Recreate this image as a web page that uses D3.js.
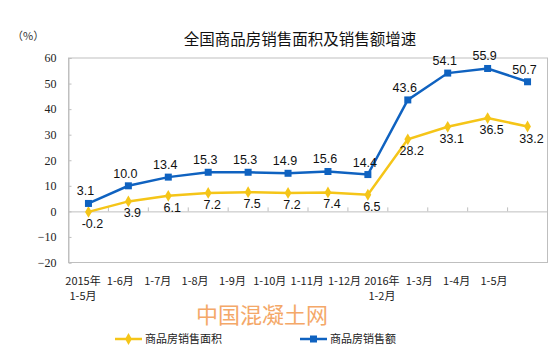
<!DOCTYPE html>
<html><head><meta charset="utf-8">
<script src="https://cdn.jsdelivr.net/npm/d3@7"></script>
<style>body{margin:0;background:#fff}svg{display:block}</style>
</head><body>
<svg id="c" width="557" height="357"></svg>
<script>
const categories = ["2015年\n1-5月","1-6月","1-7月","1-8月","1-9月","1-10月","1-11月","1-12月","2016年\n1-2月","1-3月","1-4月","1-5月"];
const areaGrowth = [-0.2,3.9,6.1,7.2,7.5,7.2,7.4,6.5,28.2,33.1,36.5,33.2];
const salesGrowth = [3.1,10.0,13.4,15.3,15.3,14.9,15.6,14.4,43.6,54.1,55.9,50.7];
const yTicks = [-20,-10,0,10,20,30,40,50,60];
const seriesNames = ["商品房销售面积","商品房销售额"];

const svg = d3.select("#c");
const L=68.5, R=547.5, T=58, B=262.5;
const x = d3.scaleBand().domain(categories).range([L,R]);
const xLab = d3.scalePoint().domain(categories).range([83,494]);
const y = d3.scaleLinear().domain([-20,60]).range([B,T]);
const cjk = "'Noto Sans CJK SC', sans-serif";
const serif = "'Liberation Serif', 'DejaVu Serif', serif";
const sans = "'Liberation Sans', Arial, sans-serif";
const gray = "#bfbfbf";

// title
svg.append("text").attr("x",300).attr("y",45).attr("text-anchor","middle")
  .attr("font-family",cjk).attr("font-size",15.5).attr("fill","#111").text("全国商品房销售面积及销售额增速");
svg.append("text").attr("x",12).attr("y",40).attr("font-family",cjk).attr("font-size",11).attr("fill","#333").text("（%）");

// plot border
svg.append("rect").attr("x",L).attr("y",T).attr("width",R-L).attr("height",B-T)
  .attr("fill","none").attr("stroke",gray).attr("stroke-width",1);

// y axis
const yAxis = d3.axisLeft(y).tickValues(yTicks).tickSize(-3).tickPadding(12).tickFormat(d3.format("d"));
const gy = svg.append("g").attr("transform",`translate(${L},0)`).call(yAxis);
gy.select(".domain").attr("stroke",gray);
gy.selectAll(".tick line").attr("stroke",gray);
gy.selectAll(".tick text").attr("font-family",serif).attr("font-size",12).attr("fill","#222");

// zero line with category ticks
const xAxis = d3.axisBottom(x).tickSize(0).tickFormat("");
const gx = svg.append("g").attr("transform",`translate(0,${y(0)})`).call(xAxis);
gx.select(".domain").attr("stroke",gray);
gx.selectAll(".tick").remove();
const bounds = categories.slice(1).map(c=>x(c));
gx.selectAll("line.sep").data(bounds).enter().append("line")
  .attr("x1",d=>d).attr("x2",d=>d).attr("y1",0).attr("y2",-4).attr("stroke",gray);

// x labels
const xl = svg.append("g");
categories.forEach(c=>{
  const lines = c.split("\n");
  const t = xl.append("text").attr("x",xLab(c)).attr("y",285).attr("text-anchor","middle")
    .attr("font-family",cjk).attr("font-size",11).attr("fill","#222");
  lines.forEach((s,i)=>t.append("tspan").attr("x",xLab(c)).attr("dy",i?15:0).text(s));
});

// watermark
svg.append("text").attr("x",262).attr("y",323).attr("text-anchor","middle")
  .attr("font-family",cjk).attr("font-size",22).attr("fill","#f4a868").text("中国混凝土网");

const cx = c=>x(c)+x.bandwidth()/2;
const yellow="#f5c518", blue="#0f62c0";
const line = d3.line().x(d=>cx(d[0])).y(d=>y(d[1]));
const aData = categories.map((c,i)=>[c,areaGrowth[i]]);
const sData = categories.map((c,i)=>[c,salesGrowth[i]]);

svg.append("path").datum(aData).attr("d",line).attr("fill","none").attr("stroke",yellow).attr("stroke-width",2.5);
svg.append("path").datum(sData).attr("d",line).attr("fill","none").attr("stroke",blue).attr("stroke-width",2.5);

const diamond = d3.symbol().type(d3.symbolDiamond).size(40);
svg.selectAll("path.am").data(aData).enter().append("path").attr("d",diamond)
  .attr("transform",d=>`translate(${cx(d[0])},${y(d[1])})`).attr("fill",yellow);
svg.selectAll("rect.sm").data(sData).enter().append("rect")
  .attr("x",d=>cx(d[0])-3.5).attr("y",d=>y(d[1])-3.5).attr("width",7).attr("height",7).attr("fill",blue);

// labels
svg.selectAll("text.sl").data(sData).enter().append("text")
  .attr("x",d=>cx(d[0])-3).attr("y",d=>y(d[1])-8).attr("text-anchor","middle")
  .attr("font-family",sans).attr("font-size",12.5).attr("fill","#111").text(d=>d[1].toFixed(1));
svg.selectAll("text.al").data(aData).enter().append("text")
  .attr("x",d=>cx(d[0])+4).attr("y",d=>y(d[1])+16).attr("text-anchor","middle")
  .attr("font-family",sans).attr("font-size",12.5).attr("fill","#111").text(d=>d[1].toFixed(1));

// legend
const lg = [[yellow,115,seriesNames[0],"d"],[blue,300,seriesNames[1],"s"]];
lg.forEach(([col,lx,name,m])=>{
  svg.append("line").attr("x1",lx).attr("x2",lx+27).attr("y1",339).attr("y2",339).attr("stroke",col).attr("stroke-width",2.5);
  if(m==="d") svg.append("path").attr("d",diamond).attr("transform",`translate(${lx+13.5},339)`).attr("fill",col);
  else svg.append("rect").attr("x",lx+10).attr("y",335.5).attr("width",7).attr("height",7).attr("fill",col);
  svg.append("text").attr("x",lx+30).attr("y",343).attr("font-family",cjk).attr("font-size",11).attr("fill","#222").text(name);
});
</script>
</body></html>
